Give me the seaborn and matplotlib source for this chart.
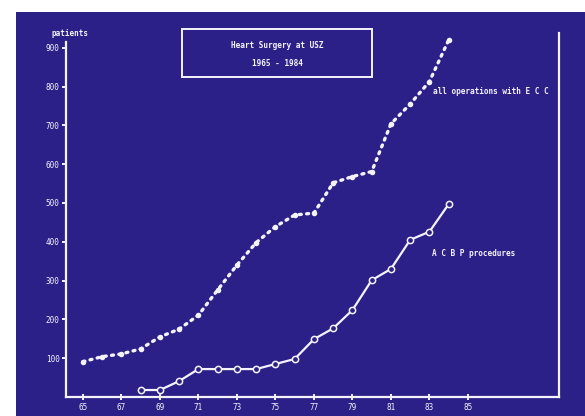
import matplotlib
matplotlib.use("Agg")
import matplotlib.pyplot as plt
import seaborn as sns
import pandas as pd
from matplotlib.patches import Rectangle

# ---- data ----
years_ecc = [65, 66, 67, 68, 69, 70, 71, 72, 73, 74, 75, 76, 77, 78, 79, 80, 81, 82, 83, 84]
ecc_ops = [91, 104, 111, 124, 155, 175, 211, 276, 340, 398, 439, 469, 474, 552, 568, 581, 704, 755, 813, 920]
years_acbp = [68, 69, 70, 71, 72, 73, 74, 75, 76, 77, 78, 79, 80, 81, 82, 83, 84]
acbp_ops = [18, 18, 41, 72, 72, 72, 72, 85, 98, 149, 177, 224, 301, 330, 405, 426, 497]
xtick_years = [65, 67, 69, 71, 73, 75, 77, 79, 81, 83, 85]
ytick_vals = [100, 200, 300, 400, 500, 600, 700, 800, 900]
title_lines = ["Heart Surgery at USZ", "1965 - 1984"]
label_ecc = "all operations with E C C"
label_acbp = "A C B P procedures"
ylabel = "patients"

BLUE = "#2a2088"
WHITE = "#f4f2fb"

sns.set_style("ticks")
plt.rcParams["font.family"] = ["DejaVu Sans Mono", "DejaVu Sans"]

fig = plt.figure(figsize=(5.85, 4.16), dpi=100, facecolor="white")
fig.patches.append(Rectangle((16 / 585, 0), 1, (416 - 12) / 416, transform=fig.transFigure,
                             facecolor=BLUE, edgecolor="none", zorder=-5))

ax = fig.add_axes([66 / 585, 19 / 416, (559 - 66) / 585, (397 - 33) / 416])
ax.set_facecolor("none")
ax.set_zorder(2)

df_ecc = pd.DataFrame({"year": years_ecc, "patients": ecc_ops})
df_acbp = pd.DataFrame({"year": years_acbp, "patients": acbp_ops})

sns.lineplot(data=df_ecc, x="year", y="patients", ax=ax, color=WHITE,
             linewidth=2.4, linestyle=(0, (0.6, 1.6)), dash_capstyle="round",
             marker="o", markersize=4, markeredgewidth=0, markerfacecolor=WHITE)
sns.lineplot(data=df_acbp, x="year", y="patients", ax=ax, color=WHITE,
             linewidth=1.6, marker="o", markersize=4.5, markeredgewidth=1.1,
             markerfacecolor=BLUE, markeredgecolor=WHITE)

ax.set_xlim(64.12, 89.73)
ax.set_ylim(0, 938)
ax.set_xticks(xtick_years)
ax.set_xticklabels([str(v) for v in xtick_years])
ax.set_yticks(ytick_vals)
ax.set_yticklabels([str(v) for v in ytick_vals])
ax.set_xlabel("")
ax.set_ylabel("")

for side in ["left", "bottom", "right"]:
    ax.spines[side].set_color(WHITE)
    ax.spines[side].set_linewidth(1.6)
ax.spines["top"].set_visible(False)
ax.spines["left"].set_bounds(0, 915)

ax.tick_params(axis="both", colors=WHITE, labelsize=5.5, width=1.4, length=3)
ax.tick_params(axis="x", direction="inout", length=4, pad=2)
ax.tick_params(axis="y", pad=1.5)

ax.text(83.18, 786, label_ecc, color=WHITE, fontsize=5.6, ha="left", va="center",
        fontweight="bold")
ax.text(83.13, 371, label_acbp, color=WHITE, fontsize=5.6, ha="left", va="center",
        fontweight="bold")

fig.text(51 / 585, 1 - 33 / 416, ylabel, color=WHITE, fontsize=5.5, ha="left", va="center",
         fontweight="bold")

fig.patches.append(Rectangle((182 / 585, 1 - 77 / 416), 190 / 585, 48 / 416,
                             transform=fig.transFigure, facecolor="none",
                             edgecolor=WHITE, linewidth=1.4, zorder=3))
fig.text(277 / 585, 1 - 46 / 416, title_lines[0], color=WHITE, fontsize=5.6,
         ha="center", va="center", fontweight="bold")
fig.text(277 / 585, 1 - 63 / 416, title_lines[1], color=WHITE, fontsize=5.6,
         ha="center", va="center", fontweight="bold")

fig.savefig("out.png", dpi=100, facecolor="white")
